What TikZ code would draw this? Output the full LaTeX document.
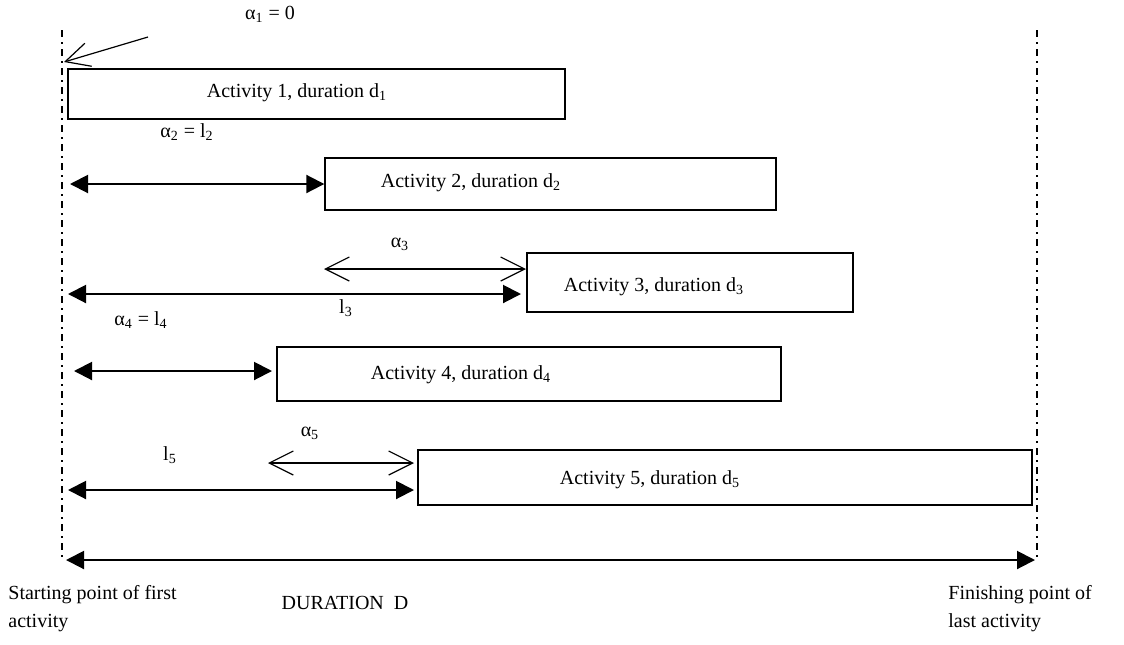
\documentclass[tikz,border=0pt]{standalone}
\usepackage{fontspec}
\setmainfont{Liberation Serif}
\usetikzlibrary{arrows.meta}

\begin{document}
\begin{tikzpicture}[x = 0.5pt, y = -0.5pt,
  every node/.style = {font = \fontsize{10}{14}\selectfont, inner sep = 0pt},
  actbox/.style = {draw, line width = 0.7pt, rectangle},
  fillarrow/.style = {line width = 1pt, {Triangle[length = 9pt, width = 9pt]}-{Triangle[length = 9pt, width = 9pt]}},
  openarrow/.style = {line width = 0.6pt, {Straight Barb[length = 12pt, width = 12pt]}-{Straight Barb[length = 12pt, width = 12pt]}},
  bound/.style = {line width = 0.7pt, dash pattern = on 3.5pt off 2.5pt on 1pt off 2.5pt}]

  \useasboundingbox (0, 0) rectangle (1124, 644);

  % Lines
  \coordinate (start top) at (62, 30);
  \coordinate (start bot) at (62, 558);
  \coordinate (end top) at (1037, 30);
  \coordinate (end bot) at (1037, 560);
  \draw[bound] (start top) -- (start bot);
  \draw[bound] (end top) -- (end bot);

  % Activities
  \node[actbox, minimum width = 248.5pt, minimum height = 25pt] (act1) at (316.5, 94) {};
  \node[actbox, minimum width = 225.5pt, minimum height = 26pt] (act2) at (550.5, 184) {};
  \node[actbox, minimum width = 163pt, minimum height = 29.5pt] (act3) at (690, 282.5) {};
  \node[actbox, minimum width = 252pt, minimum height = 27pt] (act4) at (529, 374) {};
  \node[actbox, minimum width = 307pt, minimum height = 27.5pt] (act5) at (725, 477.5) {};

  \node (txt1) at (297, 93) {Activity 1, duration d\textsubscript{1}};
  \node (txt2) at (471, 183) {Activity 2, duration d\textsubscript{2}};
  \node (txt3) at (654, 287) {Activity 3, duration d\textsubscript{3}};
  \node (txt4) at (461, 375) {Activity 4, duration d\textsubscript{4}};
  \node (txt5) at (650, 480) {Activity 5, duration d\textsubscript{5}};

  % Arrows
  \coordinate (a1s) at (148, 37);
  \coordinate (a1e) at (64, 62);
  \draw[line width = 0.6pt, -{Straight Barb[length = 12pt, width = 12pt]}] (a1s) -- (a1e);

  \coordinate (a2s) at (70, 184);
  \draw[fillarrow] (a2s) -- (act2.west);

  \coordinate (a3s) at (324, 269);
  \coordinate (a3e) at (526, 269);
  \draw[openarrow] (a3s) -- (a3e);

  \coordinate (l3s) at (68, 294);
  \coordinate (l3e) at (521, 294);
  \draw[fillarrow] (l3s) -- (l3e);

  \coordinate (a4s) at (74, 371);
  \coordinate (a4e) at (272, 371);
  \draw[fillarrow] (a4s) -- (a4e);

  \coordinate (a5s) at (268, 463);
  \coordinate (a5e) at (414, 463);
  \draw[openarrow] (a5s) -- (a5e);

  \coordinate (l5s) at (68, 490);
  \coordinate (l5e) at (414, 490);
  \draw[fillarrow] (l5s) -- (l5e);

  \coordinate (durs) at (66, 560);
  \coordinate (dure) at (1035, 560);
  \draw[fillarrow] (durs) -- (dure);

  % Labels
  \node (lab a1) at (270, 14) {α\textsubscript{1} = 0};
  \node (lab a2) at (187, 132) {α\textsubscript{2} = l\textsubscript{2}};
  \node (lab a3) at (400, 244) {α\textsubscript{3}};
  \node (lab l3) at (346, 308) {l\textsubscript{3}};
  \node (lab a4) at (141, 320) {α\textsubscript{4} = l\textsubscript{4}};
  \node (lab a5) at (310, 433) {α\textsubscript{5}};
  \node (lab l5) at (170, 455) {l\textsubscript{5}};
  \node (lab dur) at (345, 603) {DURATION\ \ D};
  \node[anchor = north west, align = left] (lab start) at (8, 585) {Starting point of first\\activity};
  \node[anchor = north west, align = left] (lab end) at (948, 585) {Finishing point of\\last activity};

\end{tikzpicture}
\end{document}
